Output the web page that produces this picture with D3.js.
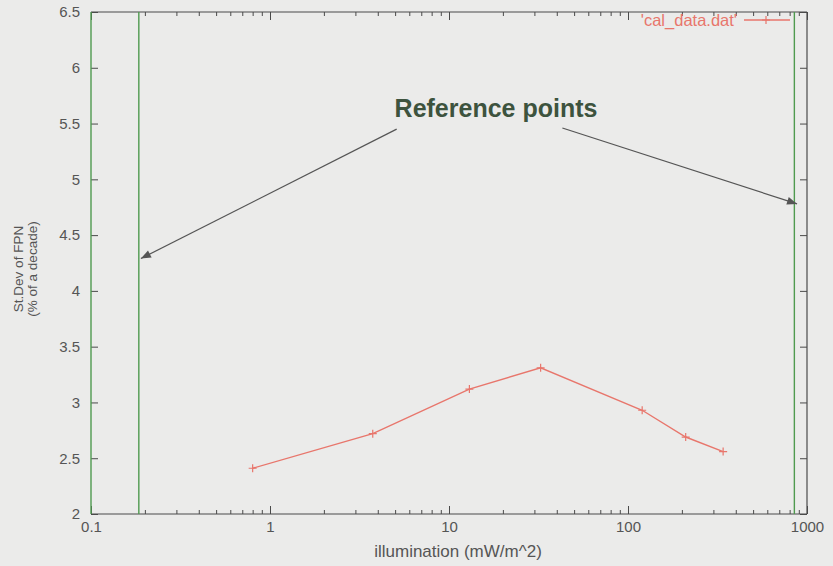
<!DOCTYPE html>
<html><head><meta charset="utf-8">
<script src="https://cdn.jsdelivr.net/npm/d3@7"></script>
<style>
html,body{margin:0;padding:0;background:#ebebea;}
svg{display:block;font-family:"Liberation Sans",Arial,sans-serif;}
</style></head>
<body><svg id="c" width="833" height="566"></svg>
<script>
// ---- data ----
const illumination = [0.8, 3.75, 13, 32.5, 120, 210, 340];
const stdevFPN     = [2.41, 2.72, 3.12, 3.31, 2.93, 2.69, 2.56];
const refLines     = [0.185, 850];
const yTicks       = [2, 2.5, 3, 3.5, 4, 4.5, 5, 5.5, 6, 6.5];
const xTicks       = [0.1, 1, 10, 100, 1000];
const arrowStarts  = [[5.1, 5.45], [43, 5.46]];
const arrowEnds    = [[0.19, 4.29], [880, 4.78]];
const annotation   = "Reference points";
const seriesName   = "'cal_data.dat'";

const svg = d3.select("#c");
const L = 91, R = 807, T = 12, B = 514;
const x = d3.scaleLog().domain([0.1, 1000]).range([L, R]);
const y = d3.scaleLinear().domain([2, 6.5]).range([B, T]);

const axisCol = "#4a4a4a", txtCol = "#555", green = "#4f9a4f", red = "#e8766c";

// minor/major x ticks (bottom & top, inward)
const minor = [];
for (let d = 0.1; d < 1000; d *= 10) for (let k = 2; k <= 9; k++) minor.push(d * k);
const g = svg.append("g");
g.append("g").attr("transform", `translate(0,${B})`)
  .call(d3.axisBottom(x).tickValues(minor).tickSize(-4).tickFormat(""))
  .call(a => a.select(".domain").remove()).selectAll("line").attr("stroke", axisCol);
g.append("g").attr("transform", `translate(0,${T})`)
  .call(d3.axisTop(x).tickValues(minor).tickSize(-4).tickFormat(""))
  .call(a => a.select(".domain").remove()).selectAll("line").attr("stroke", axisCol);
const xb = g.append("g").attr("transform", `translate(0,${B})`)
  .call(d3.axisBottom(x).tickValues(xTicks).tickSize(-8).tickPadding(7).tickFormat(d => String(d)));
xb.select(".domain").remove();
xb.selectAll("line").attr("stroke", axisCol);
xb.selectAll("text").attr("fill", txtCol).attr("font-size", 15);
const xt = g.append("g").attr("transform", `translate(0,${T})`)
  .call(d3.axisTop(x).tickValues(xTicks).tickSize(-8).tickFormat(""));
xt.select(".domain").remove(); xt.selectAll("line").attr("stroke", axisCol);

const yl = g.append("g").attr("transform", `translate(${L},0)`)
  .call(d3.axisLeft(y).tickValues(yTicks).tickSize(-7).tickPadding(11).tickFormat(d => String(d)));
yl.select(".domain").remove();
yl.selectAll("line").attr("stroke", axisCol);
yl.selectAll("text").attr("fill", txtCol).attr("font-size", 15);
const yr = g.append("g").attr("transform", `translate(${R},0)`)
  .call(d3.axisRight(y).tickValues(yTicks).tickSize(-7).tickFormat(""));
yr.select(".domain").remove(); yr.selectAll("line").attr("stroke", axisCol);

// frame
svg.append("line").attr("x1", L).attr("x2", R).attr("y1", T).attr("y2", T).attr("stroke", axisCol).attr("stroke-width", 1.2);
svg.append("line").attr("x1", L).attr("x2", R).attr("y1", B).attr("y2", B).attr("stroke", axisCol).attr("stroke-width", 1.2);
svg.append("line").attr("x1", L).attr("x2", L).attr("y1", T).attr("y2", B).attr("stroke", green).attr("stroke-width", 1.4);
svg.append("line").attr("x1", R).attr("x2", R).attr("y1", T).attr("y2", B).attr("stroke", axisCol).attr("stroke-width", 1.2);

// reference vertical lines
svg.selectAll(".ref").data(refLines).join("line")
  .attr("x1", d => x(d)).attr("x2", d => x(d)).attr("y1", T).attr("y2", B)
  .attr("stroke", green).attr("stroke-width", 1.4);

// axis titles
svg.append("text").attr("x", 458).attr("y", 557).attr("text-anchor", "middle")
  .attr("fill", txtCol).attr("font-size", 17).text("illumination (mW/m^2)");
const yt = svg.append("text").attr("transform", `translate(23,${(T + B) / 2 + 6}) rotate(-90)`)
  .attr("text-anchor", "middle").attr("fill", txtCol).attr("font-size", 13.5);
yt.append("tspan").attr("x", 0).attr("dy", 0).text("St.Dev of FPN");
yt.append("tspan").attr("x", 0).attr("dy", 14).text("(% of a decade)");

// annotation
svg.append("defs").append("marker").attr("id", "ah").attr("viewBox", "0 0 10 10")
  .attr("refX", 10).attr("refY", 5).attr("markerWidth", 14).attr("markerHeight", 10)
  .attr("markerUnits", "userSpaceOnUse").attr("orient", "auto")
  .append("path").attr("d", "M0,1 L10,5 L0,9 Z").attr("fill", "#555");
svg.selectAll(".arr").data(arrowStarts).join("line")
  .attr("x1", d => x(d[0])).attr("y1", d => y(d[1]))
  .attr("x2", (d, i) => x(arrowEnds[i][0])).attr("y2", (d, i) => y(arrowEnds[i][1]))
  .attr("stroke", "#555").attr("stroke-width", 1.2).attr("marker-end", "url(#ah)");
svg.append("text").attr("x", 496).attr("y", 117).attr("text-anchor", "middle")
  .attr("font-size", 25).attr("font-weight", "bold").attr("fill", "#3d533e").text(annotation);

// data line
const pts = illumination.map((v, i) => [v, stdevFPN[i]]);
svg.append("path").datum(pts)
  .attr("d", d3.line().x(d => x(d[0])).y(d => y(d[1])))
  .attr("fill", "none").attr("stroke", red).attr("stroke-width", 1.4);
const plus = (sel) => sel.attr("d", "M-4,0H4M0,-4V4").attr("stroke", red).attr("stroke-width", 1.2);
svg.selectAll(".pt").data(pts).join("path")
  .attr("transform", d => `translate(${x(d[0])},${y(d[1])})`).call(plus);

// legend
svg.append("text").attr("x", 737).attr("y", 26).attr("text-anchor", "end")
  .attr("fill", red).attr("font-size", 16.5).text(seriesName);
svg.append("line").attr("x1", 744).attr("x2", 790).attr("y1", 20).attr("y2", 20)
  .attr("stroke", red).attr("stroke-width", 1.4);
svg.append("path").attr("transform", "translate(766,20)").call(plus);
</script></body></html>
